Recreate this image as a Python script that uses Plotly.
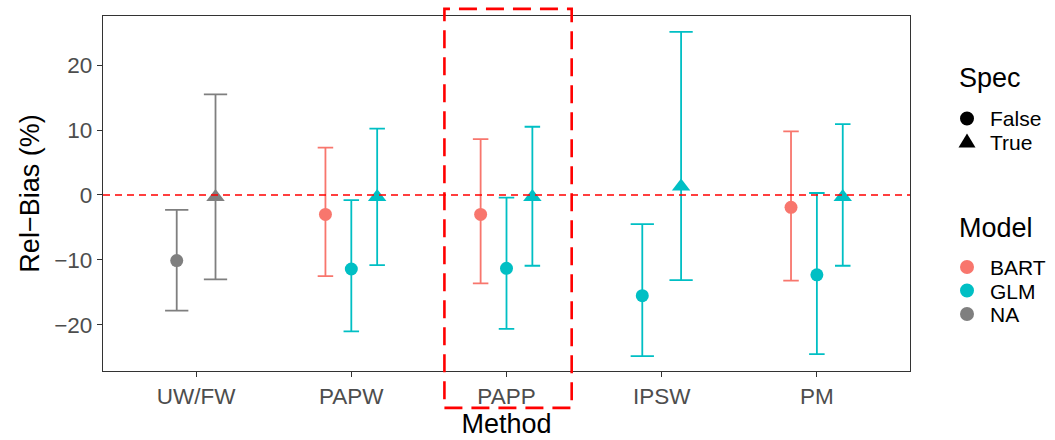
import plotly.graph_objects as go

# ---- data ----
methods = ["UW/FW", "PAPW", "PAPP", "IPSW", "PM"]
row_method = ["UW/FW", "UW/FW", "PAPW", "PAPW", "PAPW", "PAPP", "PAPP", "PAPP",
              "IPSW", "IPSW", "PM", "PM", "PM"]
row_model = ["NA", "NA", "BART", "GLM", "GLM", "BART", "GLM", "GLM",
             "GLM", "GLM", "BART", "GLM", "GLM"]
row_spec = [False, True, False, False, True, False, False, True,
            False, True, False, False, True]
rel_bias = [-10.1, -0.3, -3.0, -11.4, -0.3, -3.0, -11.3, -0.3,
            -15.5, 1.3, -1.9, -12.3, -0.3]
lower = [-17.8, -13.0, -12.5, -21.0, -10.8, -13.6, -20.6, -10.9,
         -24.8, -13.1, -13.2, -24.5, -10.9]
upper = [-2.3, 15.5, 7.3, -0.8, 10.2, 8.6, -0.4, 10.5,
         -4.5, 25.1, 9.8, 0.3, 10.9]

spec_labels = ["False", "True"]
model_labels = ["BART", "GLM", "NA"]

model_colors = {"BART": "#F8766D", "GLM": "#00BFC4", "NA": "#7F7F7F"}
spec_symbols = {False: "circle", True: "triangle-up"}
spec_sizes = {False: 13, True: 16}

# ---- layout constants ----
W, H = 1055, 440
ML, MR, MT, MB = 103, 145, 16, 69
PW, PH = W - ML - MR, H - MT - MB
XR = [-0.6, len(methods) - 0.4]
px_per_unit = PW / (XR[1] - XR[0])
DODGE = 0.5
EB_WIDTH = 0.3
FONT = "Liberation Sans, Arial, sans-serif"

fig = go.Figure()

for i in range(len(row_method)):
    m = row_method[i]
    idx = methods.index(m)
    members = [j for j in range(len(row_method)) if row_method[j] == m]
    n = len(members)
    k = members.index(i)
    xpos = idx - DODGE / 2 + DODGE / n * (k + 0.5)
    col = model_colors[row_model[i]]
    fig.add_trace(go.Scatter(
        x=[xpos], y=[rel_bias[i]], mode="markers",
        marker=dict(symbol=spec_symbols[row_spec[i]], size=spec_sizes[row_spec[i]],
                    color=col, line=dict(width=0)),
        error_y=dict(type="data", symmetric=False,
                     array=[upper[i] - rel_bias[i]],
                     arrayminus=[rel_bias[i] - lower[i]],
                     color=col, thickness=1.8,
                     width=EB_WIDTH / n / 2 * px_per_unit),
        showlegend=False, hoverinfo="skip",
    ))


# ---- custom legends (keys as pixel-sized shapes, labels as annotations) ----
def px_x(px):
    return (px - ML) / PW


def px_y(py):
    return (H - MB - py) / PH


KEY_X, TXT_X, TITLE_X = 967, 989, 957


def add_key(shape, col, py):
    common = dict(xref="paper", yref="paper", xsizemode="pixel", ysizemode="pixel",
                  xanchor=px_x(KEY_X), yanchor=px_y(py),
                  fillcolor=col, line=dict(width=0), layer="above")
    if shape == "circle":
        fig.add_shape(type="circle", x0=-7, x1=7, y0=-7, y1=7, **common)
    else:
        fig.add_shape(type="path", path="M-8.5,-5.5 L8.5,-5.5 L0,8.5 Z", **common)


legend_blocks = [
    ("Spec", 78, 118.5, 23.5,
     [(lab, "black", "circle" if lab == "False" else "triangle") for lab in spec_labels]),
    ("Model", 228, 267, 23.5,
     [(lab, model_colors[lab], "circle") for lab in model_labels]),
]
for title, ty, y0, dy, items in legend_blocks:
    fig.add_annotation(text=title, xref="paper", yref="paper",
                       x=px_x(TITLE_X), y=px_y(ty),
                       xanchor="left", yanchor="middle", showarrow=False,
                       font=dict(size=27, color="black", family=FONT))
    for j, (lab, col, shp) in enumerate(items):
        yy = y0 + j * dy
        add_key(shp, col, yy)
        fig.add_annotation(text=lab, xref="paper", yref="paper",
                           x=px_x(TXT_X), y=px_y(yy + 0.5),
                           xanchor="left", yanchor="middle", showarrow=False,
                           borderpad=0,
                           font=dict(size=21, color="black", family=FONT))

# zero reference line
fig.add_hline(y=0, line=dict(color="#FF0000", width=1.4, dash="7px,5px"))

# highlight box around PAPP
papp = methods.index("PAPP")
fig.add_shape(type="rect", xref="x", yref="paper",
              x0=papp - 0.4, x1=papp + 0.42, y0=-0.104, y1=1.02,
              line=dict(color="#FF0000", width=2.6, dash="18px,9px"),
              fillcolor="rgba(0,0,0,0)", layer="above")

fig.update_layout(
    width=W, height=H,
    margin=dict(l=ML, r=MR, t=MT, b=MB, autoexpand=False),
    paper_bgcolor="white", plot_bgcolor="white",
    showlegend=False,
    font=dict(family=FONT, color="black"),
    xaxis=dict(range=XR, tickmode="array", tickvals=list(range(len(methods))),
               ticktext=methods, showgrid=False, zeroline=False,
               showline=True, mirror=True, linecolor="#333333", linewidth=1.3,
               ticks="outside", ticklen=5, tickcolor="#333333", tickwidth=1.3,
               tickfont=dict(size=22.5, color="#4D4D4D"),
               title=dict(text="Method", font=dict(size=27, color="black"), standoff=4)),
    yaxis=dict(range=[-27.1, 27.55], tickvals=[-20, -10, 0, 10, 20],
               ticktext=["\u221220", "\u221210", "0", "10", "20"],
               showgrid=False, zeroline=False,
               showline=True, mirror=True, linecolor="#333333", linewidth=1.3,
               ticks="outside", ticklen=5, tickcolor="#333333", tickwidth=1.3,
               tickfont=dict(size=22.5, color="#4D4D4D"),
               title=dict(text="Rel\u2212Bias (%)", font=dict(size=27, color="black"), standoff=6)),
)

fig.write_html("out.html")
